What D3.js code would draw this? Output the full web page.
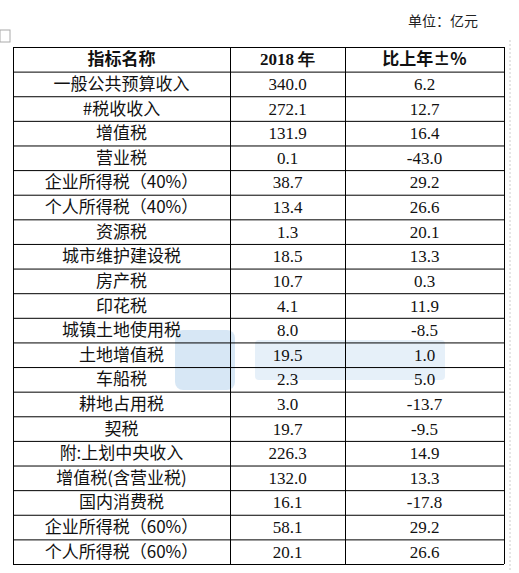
<!DOCTYPE html><html><head><meta charset="utf-8">
<script src="https://cdn.jsdelivr.net/npm/d3@7"></script>
<style>body{margin:0;background:#fff}</style></head><body>
<svg id="c" width="519" height="573"></svg>
<script>
const headers=["指标名称","2018 年","比上年±%"];
const names=["一般公共预算收入","#税收收入","增值税","营业税","企业所得税（40%）","个人所得税（40%）","资源税","城市维护建设税","房产税","印花税","城镇土地使用税","土地增值税","车船税","耕地占用税","契税","附:上划中央收入","增值税(含营业税)","国内消费税","企业所得税（60%）","个人所得税（60%）"];
const values=["340.0","272.1","131.9","0.1","38.7","13.4","1.3","18.5","10.7","4.1","8.0","19.5","2.3","3.0","19.7","226.3","132.0","16.1","58.1","20.1"];
const changes=["6.2","12.7","16.4","-43.0","29.2","26.6","20.1","13.3","0.3","11.9","-8.5","1.0","5.0","-13.7","-9.5","14.9","13.3","-17.8","29.2","26.6"];
const svg=d3.select("#c");
const x=d3.scaleLinear().domain([0,1,2,3]).range([13,230,345,504]);
const y=d3.scaleBand().domain(d3.range(21)).range([47,564]);
const cjk="'Noto Sans CJK SC',sans-serif", serif="'Liberation Serif',serif";
// watermark (drawn as faint shapes behind)
svg.append("rect").attr("x",175).attr("y",330).attr("width",60).attr("height",60).attr("rx",8).attr("fill","#9cc3e6").attr("opacity",0.4);
svg.append("rect").attr("x",255).attr("y",340).attr("width",190).attr("height",40).attr("rx",4).attr("fill","#9cc3e6").attr("opacity",0.25);
svg.append("text").attr("x",478).attr("y",26).attr("text-anchor","end").attr("font-family",cjk).attr("font-size",14).attr("fill","#222").text("单位：亿元");
svg.append("rect").attr("x",0).attr("y",30).attr("width",10).attr("height",12).attr("fill","none").attr("stroke","#aaa");
const g=svg.append("g").attr("stroke","#000").attr("stroke-width",1);
d3.range(22).forEach(i=>{const yy=i<21?y(i):564;g.append("line").attr("x1",13).attr("x2",504).attr("y1",yy+0.5).attr("y2",yy+0.5);});
[0,1,2,3].forEach(i=>g.append("line").attr("x1",x(i)+0.5).attr("x2",x(i)+0.5).attr("y1",47).attr("y2",564));
svg.append("line").attr("x1",510).attr("x2",510).attr("y1",40).attr("y2",570).attr("stroke","#ccc").attr("stroke-dasharray","2,2");
const cx=i=>(x(i)+x(i+1))/2;
const rows=[headers].concat(names.map((n,i)=>[n,values[i],changes[i]]));
rows.forEach((r,i)=>{r.forEach((t,j)=>{
 svg.append("text").attr("x",cx(j)).attr("y",y(i)+y.bandwidth()/2+6).attr("text-anchor","middle")
  .attr("font-family",(j===0||i===0&&j!==1)?cjk:serif).attr("font-size",17)
  .attr("font-weight",i===0?"bold":"normal").attr("fill","#111").text(t);
});});
</script></body></html>
